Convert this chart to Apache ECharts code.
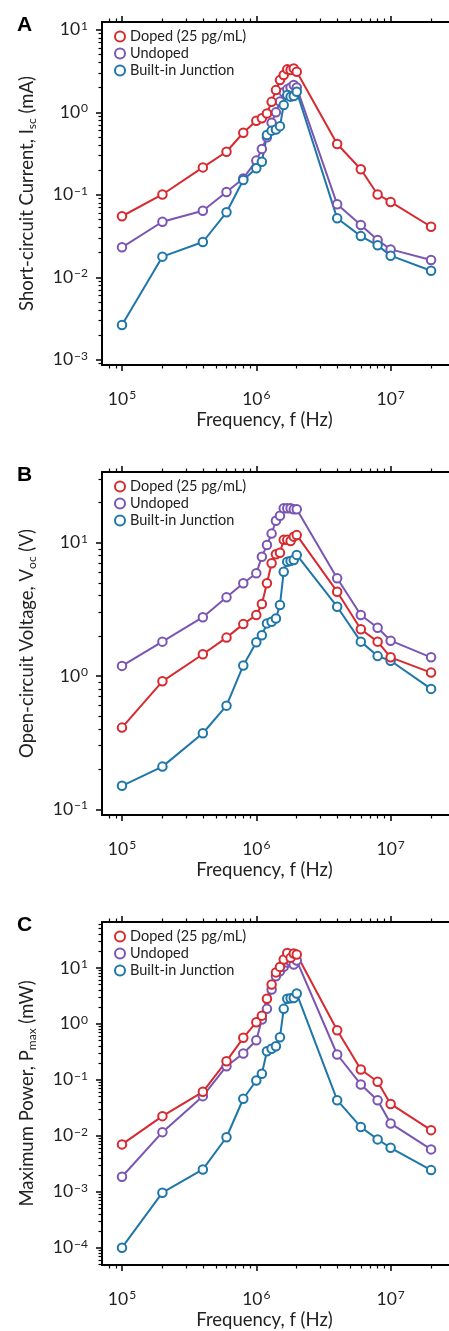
<!DOCTYPE html>
<html>
<head>
<meta charset="utf-8">
<script src="https://cdn.jsdelivr.net/npm/echarts@6/dist/echarts.min.js"></script>
<style>
  html, body { margin: 0; padding: 0; background: #fff; overflow: hidden; }
  #chart { width: 449px; height: 1331px; }
</style>
</head>
<body>
<div id="chart"></div>
<script>
// frequency sweep (Hz)
const freq = [1e5, 2e5, 4e5, 6e5, 8e5, 1e6, 1.1e6, 1.2e6, 1.3e6, 1.4e6, 1.5e6, 1.6e6, 1.7e6, 1.8e6, 1.9e6, 2e6, 4e6, 6e6, 8e6, 1e7, 2e7]

// A: short-circuit current (mA)
const iscDoped = [0.055, 0.101, 0.215, 0.333, 0.566, 0.79, 0.846, 0.97, 1.34, 1.86, 2.46, 2.83, 3.32, 3.26, 3.41, 3.1, 0.413, 0.204, 0.101, 0.082, 0.041]
const iscUndoped = [0.0231, 0.0472, 0.0641, 0.108, 0.158, 0.26, 0.36, 0.5, 0.75, 1.0, 1.35, 1.75, 1.9, 2.0, 2.15, 2.0, 0.0767, 0.043, 0.0283, 0.0218, 0.0162]
const iscJunction = [0.00264, 0.0178, 0.0268, 0.0614, 0.151, 0.21, 0.252, 0.531, 0.6, 0.62, 0.68, 1.23, 1.62, 1.55, 1.58, 1.78, 0.0519, 0.0316, 0.0244, 0.0183, 0.012]

// B: open-circuit voltage (V)
const vocDoped = [0.41, 0.912, 1.455, 1.94, 2.45, 2.87, 3.47, 4.96, 7.0, 8.2, 8.4, 10.5, 10.5, 10.3, 11.1, 11.4, 4.29, 2.24, 1.81, 1.38, 1.06]
const vocUndoped = [1.19, 1.81, 2.76, 3.89, 4.96, 5.89, 7.85, 9.6, 11.7, 14.6, 15.9, 18.1, 18.1, 18.1, 17.8, 17.8, 5.41, 2.87, 2.3, 1.84, 1.38]
const vocJunction = [0.15, 0.209, 0.372, 0.599, 1.2, 1.79, 2.02, 2.48, 2.55, 2.7, 3.41, 6.06, 7.2, 7.3, 7.4, 8.1, 3.31, 1.81, 1.41, 1.3, 0.8]

// C: maximum power (mW)
const pmaxDoped = [0.007, 0.0224, 0.061, 0.215, 0.562, 1.07, 1.4, 2.8, 5.03, 8.3, 10.4, 14.1, 18.5, 15.1, 18.0, 17.3, 0.77, 0.153, 0.092, 0.037, 0.0126]
const pmaxUndoped = [0.00185, 0.0116, 0.051, 0.175, 0.295, 0.51, 1.19, 1.85, 4.1, 7.1, 8.7, 10.5, 12.5, 13.0, 11.5, 13.5, 0.283, 0.0824, 0.0432, 0.0166, 0.0057]
const pmaxJunction = [0.0001, 0.00096, 0.0025, 0.0094, 0.0458, 0.0972, 0.128, 0.324, 0.358, 0.398, 0.577, 1.85, 2.8, 2.87, 2.9, 3.47, 0.0432, 0.0143, 0.0086, 0.0061, 0.00243]

const seriesNames = ['Doped (25 pg/mL)', 'Undoped', 'Built-in Junction']
const colors = { 'Doped (25 pg/mL)': '#d62a30', 'Undoped': '#7a55b3', 'Built-in Junction': '#1f76a8' }

const xMajor = [1e5, 1e6, 1e7]

const FONT = 'Lato'
const xMin = 7.1e4
const xMax = 2.72e7

const panels = [
  { letter: 'A', top: 22, name: 'Short-circuit Current, I{sub|sc} (mA)', ymin: 8.65e-4, ymax: 12.45,
    yMajor: [1e-3, 1e-2, 1e-1, 1, 10], data: [iscDoped, iscUndoped, iscJunction] },
  { letter: 'B', top: 472, name: 'Open-circuit Voltage, V{sub|oc} (V)', ymin: 0.0906, ymax: 33.9,
    yMajor: [0.1, 1, 10], data: [vocDoped, vocUndoped, vocJunction] },
  { letter: 'C', top: 922, name: 'Maximum Power, P{sub|max} (mW)', ymin: 4.9e-5, ymax: 66,
    yMajor: [1e-4, 1e-3, 1e-2, 1e-1, 1, 10], data: [pmaxDoped, pmaxUndoped, pmaxJunction] },
]

function minorTicks(lo, hi) {
  const out = []
  for (let e = lo; e <= hi; e++) {
    for (let m = 2; m <= 9; m++) out.push(m * Math.pow(10, e))
  }
  return out
}

function powLabel(v) {
  const e = Math.round(Math.log10(v))
  return '10{sup|' + (e < 0 ? '\u2212' + (-e) : e) + '}'
}

const labelStyle = {
  fontFamily: FONT,
  fontSize: 17.5,
  color: '#222',
  formatter: powLabel,
  rich: { sup: { fontFamily: FONT, fontSize: 12, color: '#222', padding: [0, 0, 8, 1] } },
}

const grids = []
const xAxes = []
const yAxes = []
const series = []
const legends = []
const titles = []

panels.forEach((p, gi) => {
  grids.push({ left: 102, right: 0, top: p.top, height: 343 })

  const baseX = {
    type: 'log', logBase: 10, min: xMin, max: xMax, gridIndex: gi,
    splitLine: { show: false },
  }
  // bottom major
  xAxes.push(Object.assign({}, baseX, {
    position: 'bottom',
    name: 'Frequency, f (Hz)',
    nameLocation: 'middle',
    nameGap: 46,
    nameTextStyle: { fontFamily: FONT, fontSize: 18.5, color: '#222', padding: [0, 22, 0, 0] },
    axisLine: { show: true, onZero: false, lineStyle: { color: '#000', width: 2 } },
    axisTick: { show: true, length: 6, lineStyle: { color: '#000', width: 1.5 }, customValues: xMajor },
    axisLabel: Object.assign({ margin: 24, customValues: xMajor }, labelStyle),
  }))
  // bottom minor
  xAxes.push(Object.assign({}, baseX, {
    position: 'bottom',
    axisLine: { show: false, onZero: false },
    axisTick: { show: true, length: 3.5, lineStyle: { color: '#000', width: 1.2 }, customValues: minorTicks(4, 7) },
    axisLabel: { show: false },
  }))
  // top major
  xAxes.push(Object.assign({}, baseX, {
    position: 'top',
    axisLine: { show: true, onZero: false, lineStyle: { color: '#000', width: 2 } },
    axisTick: { show: true, length: 6, lineStyle: { color: '#000', width: 1.5 }, customValues: xMajor },
    axisLabel: { show: false },
  }))
  // top minor
  xAxes.push(Object.assign({}, baseX, {
    position: 'top',
    axisLine: { show: false, onZero: false },
    axisTick: { show: true, length: 3.5, lineStyle: { color: '#000', width: 1.2 }, customValues: minorTicks(4, 7) },
    axisLabel: { show: false },
  }))

  const baseY = {
    type: 'log', logBase: 10, min: p.ymin, max: p.ymax, gridIndex: gi,
    position: 'left',
    splitLine: { show: false },
  }
  yAxes.push(Object.assign({}, baseY, {
    name: p.name,
    nameLocation: 'middle',
    nameGap: 64,
    nameTextStyle: {
      fontFamily: FONT, fontSize: 18.5, color: '#222',
      rich: { sub: { fontFamily: FONT, fontSize: 12, color: '#222', padding: [9, 0, 0, 0] } },
    },
    axisLine: { show: true, onZero: false, lineStyle: { color: '#000', width: 2 } },
    axisTick: { show: true, length: 6, lineStyle: { color: '#000', width: 1.5 }, customValues: p.yMajor },
    axisLabel: Object.assign({ margin: 14, customValues: p.yMajor }, labelStyle),
  }))
  yAxes.push(Object.assign({}, baseY, {
    axisLine: { show: false, onZero: false },
    axisTick: { show: true, length: 3.5, lineStyle: { color: '#000', width: 1.2 }, customValues: minorTicks(-5, 2) },
    axisLabel: { show: false },
  }))

  // draw order: undoped, junction, doped on top
  ;[1, 2, 0].forEach(si => {
    const name = seriesNames[si]
    series.push({
      name,
      type: 'line',
      xAxisIndex: gi * 4,
      yAxisIndex: gi * 2,
      symbol: 'circle',
      symbolSize: 8.5,
      lineStyle: { color: colors[name], width: 2 },
      itemStyle: { color: '#fff', borderColor: colors[name], borderWidth: 2 },
      data: freq.map((f, i) => [f, p.data[si][i]]),
    })
  })

  legends.push({
    left: 109, top: p.top + 2,
    orient: 'vertical',
    selectedMode: false,
    icon: 'circle',
    itemWidth: 10, itemHeight: 10, itemGap: 2,
    textStyle: { fontFamily: FONT, fontSize: 14.5, color: '#222' },
    data: seriesNames.map(n => ({
      name: n,
      itemStyle: { color: '#fff', borderColor: colors[n], borderWidth: 2 },
    })),
  })

  titles.push({
    text: p.letter, left: 12, top: p.top - 12,
    textStyle: { fontFamily: 'Liberation Sans', fontWeight: 'bold', fontSize: 21, color: '#000' },
  })
})

const chart = echarts.init(document.getElementById('chart'))
chart.setOption({
  animation: false,
  backgroundColor: '#fff',
  title: titles,
  legend: legends,
  grid: grids,
  xAxis: xAxes,
  yAxis: yAxes,
  series,
})
</script>
</body>
</html>
